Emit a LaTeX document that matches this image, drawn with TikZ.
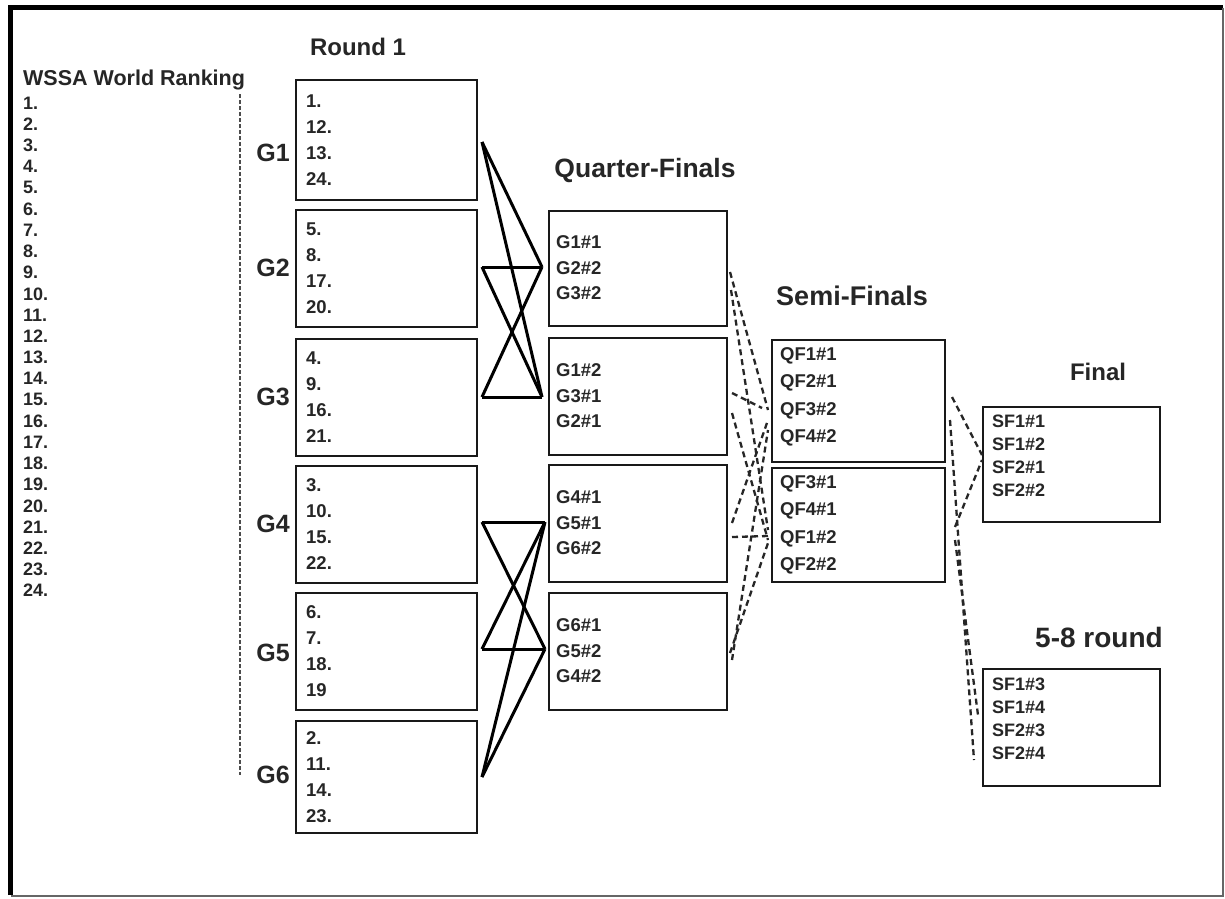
\documentclass[tikz,border=0pt]{standalone}
\usepackage{fontspec}
\setmainfont{Liberation Sans}
\usetikzlibrary{fit}
\begin{document}
\begin{tikzpicture}[x=1pt,y=-1pt,
  every node/.style={text=black!85},
  box/.style={draw=black!90, line width=2.8pt, inner sep=0pt, rectangle},
  lbl/.style={anchor=west, inner sep=0pt, align=left},
  gtxt/.style={lbl, font=\bfseries\fontsize{18.5}{26}\selectfont},
  qtxt/.style={lbl, font=\bfseries\fontsize{18.5}{25.5}\selectfont},
  stxt/.style={lbl, font=\bfseries\fontsize{18.5}{27.5}\selectfont},
  ftxt/.style={lbl, font=\bfseries\fontsize{18}{23}\selectfont},
  title/.style={inner sep=0pt, font=\bfseries\fontsize{24}{24}\selectfont},
  glabel/.style={inner sep=0pt, font=\bfseries\fontsize{25}{25}\selectfont},
  rank/.style={anchor=west, inner sep=0pt, font=\bfseries\fontsize{18}{18}\selectfont},
  solidlink/.style={line width=3pt, black},
  dashlink/.style={line width=2.3pt, black!85, dash pattern=on 6pt off 4pt}]
\useasboundingbox (0,0) rectangle (1225,898);
\fill[white] (0,0) rectangle (1225,898);
% frame
\draw[line width=5pt, black] (10.5,895) -- (10.5,7.5) -- (1223,7.5);
\draw[line width=2.5pt, black!60] (1223,7.5) -- (1223,896) -- (10.5,896);

% ranking list
\node[anchor=west, inner sep=0pt, font=\bfseries\fontsize{21.5}{21.5}\selectfont] (wssa) at (23,80) {WSSA World Ranking};
\foreach \k in {1,...,24} {
  \node[rank] (r\k) at (23,{103+(\k-1)*21.2}) {\k.};
}
\draw[line width=2.5pt, black!70, dash pattern=on 4pt off 2pt] (240,94) -- (240,775);

% titles
\node[title] (t1) at (358,47) {Round 1};
\node[title, font=\bfseries\fontsize{26.5}{26.5}\selectfont] (t2) at (645,170) {Quarter-Finals};
\node[title, font=\bfseries\fontsize{27}{27}\selectfont] (t3) at (852,296) {Semi-Finals};
\node[title] (t4) at (1098,372) {Final};
\node[title, font=\bfseries\fontsize{28}{28}\selectfont] (t5) at (1099,637) {5-8 round};

% group boxes
\node[box, fit={(296,80) (477,200)}] (G1) {};
\node[box, fit={(296,210) (477,327)}] (G2) {};
\node[box, fit={(296,339) (477,456)}] (G3) {};
\node[box, fit={(296,466) (477,583)}] (G4) {};
\node[box, fit={(296,593) (477,710)}] (G5) {};
\node[box, fit={(296,721) (477,833)}] (G6) {};
\node[gtxt] (G1t) at (306,140) {1.\\12.\\13.\\24.};
\node[gtxt] (G2t) at (306,268.5) {5.\\8.\\17.\\20.};
\node[gtxt] (G3t) at (306,397.5) {4.\\9.\\16.\\21.};
\node[gtxt] (G4t) at (306,524.5) {3.\\10.\\15.\\22.};
\node[gtxt] (G5t) at (306,651.5) {6.\\7.\\18.\\19};
\node[gtxt] (G6t) at (306,777) {2.\\11.\\14.\\23.};
\node[glabel] (G1l) at (273,153) {G1};
\node[glabel] (G2l) at (273,268) {G2};
\node[glabel] (G3l) at (273,397) {G3};
\node[glabel] (G4l) at (273,524) {G4};
\node[glabel] (G5l) at (273,653) {G5};
\node[glabel] (G6l) at (273,775) {G6};

% quarter-final boxes
\node[box, fit={(549,211) (727,326)}] (QF1) {};
\node[box, fit={(549,338) (727,455)}] (QF2) {};
\node[box, fit={(549,465) (727,582)}] (QF3) {};
\node[box, fit={(549,593) (727,710)}] (QF4) {};
\node[qtxt] (QF1t) at (556,268) {G1\#1\\G2\#2\\G3\#2};
\node[qtxt] (QF2t) at (556,396) {G1\#2\\G3\#1\\G2\#1};
\node[qtxt] (QF3t) at (556,523) {G4\#1\\G5\#1\\G6\#2};
\node[qtxt] (QF4t) at (556,651) {G6\#1\\G5\#2\\G4\#2};

% semi-final boxes
\node[box, fit={(772,340) (945,462)}] (SF1) {};
\node[box, fit={(772,468) (945,582)}] (SF2) {};
\node[stxt] (SF1t) at (780,397) {QF1\#1\\QF2\#1\\QF3\#2\\QF4\#2};
\node[stxt] (SF2t) at (780,525) {QF3\#1\\QF4\#1\\QF1\#2\\QF2\#2};

% final boxes
\node[box, fit={(983,407) (1160,522)}] (FIN) {};
\node[box, fit={(983,669) (1160,786)}] (PL) {};
\node[ftxt] (FINt) at (992,456) {SF1\#1\\SF1\#2\\SF2\#1\\SF2\#2};
\node[ftxt] (PLt) at (992,719) {SF1\#3\\SF1\#4\\SF2\#3\\SF2\#4};

% solid connectors round 1 -> QF
\coordinate (g1r) at (482,142);
\coordinate (g2r) at (482,267);
\coordinate (g3r) at (482,397);
\coordinate (g4r) at (482,522);
\coordinate (g5r) at (482,649);
\coordinate (g6r) at (482,777);
\coordinate (q1l) at (542,267);
\coordinate (q2l) at (542,397);
\coordinate (q3l) at (545,522);
\coordinate (q4l) at (545,649);
\draw[solidlink] (g1r) -- (q1l);
\draw[solidlink] (g1r) -- (q2l);
\draw[solidlink] (g2r) -- (q1l);
\draw[solidlink] (g2r) -- (q2l);
\draw[solidlink] (g3r) -- (q2l);
\draw[solidlink] (g3r) -- (q1l);
\draw[solidlink] (g4r) -- (q3l);
\draw[solidlink] (g4r) -- (q4l);
\draw[solidlink] (g5r) -- (q4l);
\draw[solidlink] (g5r) -- (q3l);
\draw[solidlink] (g6r) -- (q3l);
\draw[solidlink] (g6r) -- (q4l);

% dashed connectors QF -> SF
\coordinate (q1a) at (730,272);
\coordinate (q1b) at (731,290);
\coordinate (q2a) at (732,393);
\coordinate (q2b) at (732,413);
\coordinate (q3a) at (732,523);
\coordinate (q3b) at (732,537);
\coordinate (q4a) at (732,660);
\coordinate (q4b) at (730,653);
\coordinate (s1a) at (768,410);
\coordinate (s1b) at (762,408);
\coordinate (s1c) at (768,420);
\coordinate (s1d) at (768,430);
\coordinate (s2a) at (768,530);
\coordinate (s2b) at (768,540);
\coordinate (s2c) at (768,536);
\coordinate (s2d) at (768,543);
\draw[dashlink] (q1a) -- (s1a);
\draw[dashlink] (q1b) -- (s2a);
\draw[dashlink] (q2a) -- (s1b);
\draw[dashlink] (q2b) -- (s2b);
\draw[dashlink] (q3a) -- (s1c);
\draw[dashlink] (q3b) -- (s2c);
\draw[dashlink] (q4a) -- (s1d);
\draw[dashlink] (q4b) -- (s2d);

% dashed connectors SF -> final / 5-8
\coordinate (sf1a) at (952,397);
\coordinate (sf1b) at (950,420);
\coordinate (sf2a) at (955,527);
\coordinate (sf2b) at (955,540);
\coordinate (fa) at (982,455);
\coordinate (fb) at (982,460);
\coordinate (pa) at (974,760);
\coordinate (pb) at (978,715);
\draw[dashlink] (sf1a) -- (fa);
\draw[dashlink] (sf2a) -- (fb);
\draw[dashlink] (sf1b) -- (pa);
\draw[dashlink] (sf2b) -- (pb);
\end{tikzpicture}
\end{document}
